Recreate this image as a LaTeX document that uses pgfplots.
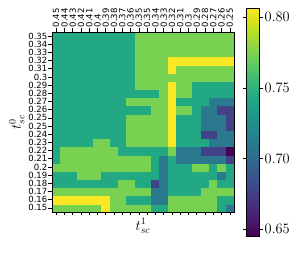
\documentclass[border=0pt]{standalone}
\usepackage[no-math]{fontspec}
\setmainfont{DejaVu Sans}
\usepackage{pgfplots}
\pgfplotsset{compat=1.18}
\begin{document}
\begin{tikzpicture}
\begin{axis}[
  at={(0,0)}, anchor=south west,
  scale only axis, width=182pt, height=180pt,
  xmin=-0.5, xmax=21.5, ymin=-0.5, ymax=21.5,
  enlargelimits=false,
  axis on top,
  colormap/viridis,
  point meta min=0.6452, point meta max=0.8065,
  xtick={0,...,21}, ytick={0,...,21},
  xticklabels={0.45,0.44,0.43,0.42,0.41,0.4,0.39,0.38,0.37,0.36,0.35,0.35,0.34,0.33,0.32,0.31,0.3,0.29,0.28,0.27,0.26,0.25},
  yticklabels={0.15,0.16,0.17,0.18,0.19,0.2,0.21,0.22,0.23,0.24,0.25,0.25,0.26,0.27,0.28,0.29,0.3,0.31,0.32,0.33,0.34,0.35},
  xtick pos=both, xticklabel pos=upper, ytick pos=left,
  tick align=outside, major tick length=3.5pt,
  tick style={black, line width=0.7pt},
  axis line style={line width=0.8pt},
  xticklabel style={rotate=90, anchor=west, font=\fontsize{8.5}{8.5}\selectfont, inner sep=1pt},
  yticklabel style={font=\fontsize{8.5}{8.5}\selectfont, inner sep=1pt},
  xlabel={$t^1_{sc}$}, ylabel={$t^0_{sc}$},
  xlabel style={at={(axis description cs:0.5,-0.035)}, anchor=north, inner sep=0pt, font=\fontsize{14.4}{14.4}\selectfont},
  ylabel style={at={(axis description cs:-0.15,0.5)}, anchor=south, inner sep=0pt, font=\fontsize{14.4}{14.4}\selectfont},
  colorbar,
  colorbar style={
    at={(parent axis.east)}, anchor=west, xshift=4pt,
    scale only axis, width=13pt, height=228pt,
    ytick={0.65,0.7,0.75,0.8},
    yticklabel style={/pgf/number format/fixed, /pgf/number format/fixed zerofill, /pgf/number format/precision=2, font=\fontsize{14.4}{14.4}\selectfont, inner sep=1.5pt},
    tick align=outside, major tick length=3.5pt,
    tick style={black, line width=0.7pt},
    axis line style={line width=0.8pt},
  },
]
\addplot[matrix plot*, mesh/cols=22, point meta=explicit]
  table[row sep=\\, header=false, x expr={mod(\coordindex,22)}, y expr={floor((\coordindex+0.5)/22)}, meta index=0] {
0.774\\0.774\\0.774\\0.774\\0.774\\0.774\\0.806\\0.774\\0.774\\0.774\\0.774\\0.774\\0.742\\0.742\\0.774\\0.774\\0.774\\0.774\\0.774\\0.774\\0.742\\0.710\\
0.806\\0.806\\0.806\\0.806\\0.806\\0.806\\0.806\\0.774\\0.774\\0.742\\0.742\\0.742\\0.710\\0.710\\0.774\\0.774\\0.774\\0.774\\0.774\\0.774\\0.742\\0.742\\
0.774\\0.774\\0.774\\0.774\\0.774\\0.774\\0.774\\0.774\\0.774\\0.774\\0.774\\0.774\\0.710\\0.710\\0.742\\0.742\\0.742\\0.742\\0.774\\0.774\\0.774\\0.774\\
0.742\\0.742\\0.742\\0.742\\0.742\\0.742\\0.742\\0.742\\0.774\\0.774\\0.742\\0.742\\0.677\\0.710\\0.742\\0.742\\0.742\\0.742\\0.742\\0.774\\0.742\\0.742\\
0.742\\0.742\\0.742\\0.774\\0.774\\0.774\\0.742\\0.742\\0.742\\0.742\\0.742\\0.742\\0.742\\0.710\\0.742\\0.742\\0.742\\0.742\\0.742\\0.742\\0.710\\0.742\\
0.774\\0.774\\0.774\\0.774\\0.774\\0.774\\0.774\\0.774\\0.774\\0.774\\0.774\\0.774\\0.742\\0.710\\0.742\\0.742\\0.742\\0.774\\0.774\\0.742\\0.774\\0.742\\
0.742\\0.774\\0.774\\0.774\\0.774\\0.774\\0.774\\0.774\\0.774\\0.774\\0.774\\0.774\\0.742\\0.710\\0.742\\0.710\\0.710\\0.710\\0.710\\0.710\\0.710\\0.677\\
0.742\\0.774\\0.774\\0.774\\0.774\\0.774\\0.774\\0.774\\0.742\\0.742\\0.742\\0.742\\0.742\\0.742\\0.774\\0.710\\0.710\\0.710\\0.677\\0.677\\0.677\\0.645\\
0.742\\0.742\\0.742\\0.742\\0.742\\0.774\\0.774\\0.742\\0.742\\0.774\\0.774\\0.774\\0.774\\0.774\\0.806\\0.742\\0.742\\0.742\\0.742\\0.710\\0.710\\0.710\\
0.742\\0.742\\0.742\\0.742\\0.742\\0.742\\0.742\\0.742\\0.742\\0.774\\0.774\\0.774\\0.774\\0.774\\0.806\\0.742\\0.742\\0.742\\0.677\\0.677\\0.710\\0.710\\
0.742\\0.742\\0.742\\0.742\\0.742\\0.742\\0.742\\0.742\\0.742\\0.774\\0.774\\0.774\\0.774\\0.774\\0.806\\0.742\\0.742\\0.742\\0.710\\0.710\\0.710\\0.677\\
0.742\\0.742\\0.742\\0.742\\0.742\\0.742\\0.742\\0.742\\0.742\\0.774\\0.774\\0.774\\0.774\\0.774\\0.806\\0.742\\0.742\\0.742\\0.710\\0.710\\0.710\\0.677\\
0.742\\0.742\\0.742\\0.742\\0.742\\0.742\\0.742\\0.742\\0.742\\0.742\\0.742\\0.742\\0.774\\0.774\\0.806\\0.774\\0.774\\0.742\\0.710\\0.710\\0.677\\0.677\\
0.742\\0.742\\0.742\\0.742\\0.742\\0.742\\0.742\\0.742\\0.742\\0.774\\0.774\\0.774\\0.774\\0.774\\0.806\\0.742\\0.742\\0.742\\0.742\\0.710\\0.710\\0.710\\
0.742\\0.742\\0.742\\0.742\\0.742\\0.742\\0.742\\0.742\\0.742\\0.742\\0.742\\0.742\\0.742\\0.774\\0.806\\0.774\\0.774\\0.742\\0.742\\0.742\\0.742\\0.742\\
0.742\\0.742\\0.742\\0.742\\0.742\\0.742\\0.742\\0.742\\0.742\\0.742\\0.774\\0.774\\0.774\\0.774\\0.806\\0.774\\0.774\\0.742\\0.742\\0.742\\0.742\\0.742\\
0.742\\0.742\\0.742\\0.742\\0.742\\0.742\\0.742\\0.742\\0.742\\0.742\\0.774\\0.774\\0.774\\0.774\\0.774\\0.774\\0.774\\0.774\\0.774\\0.774\\0.774\\0.774\\
0.742\\0.742\\0.742\\0.742\\0.742\\0.742\\0.742\\0.742\\0.742\\0.742\\0.774\\0.774\\0.774\\0.774\\0.806\\0.774\\0.774\\0.774\\0.774\\0.774\\0.774\\0.774\\
0.742\\0.742\\0.742\\0.742\\0.742\\0.742\\0.742\\0.742\\0.742\\0.742\\0.774\\0.774\\0.774\\0.774\\0.806\\0.806\\0.806\\0.806\\0.806\\0.806\\0.806\\0.806\\
0.742\\0.742\\0.742\\0.742\\0.742\\0.742\\0.742\\0.742\\0.742\\0.742\\0.774\\0.774\\0.774\\0.774\\0.774\\0.774\\0.774\\0.774\\0.774\\0.774\\0.774\\0.774\\
0.742\\0.742\\0.742\\0.742\\0.742\\0.742\\0.742\\0.742\\0.742\\0.742\\0.774\\0.774\\0.774\\0.774\\0.774\\0.774\\0.774\\0.774\\0.774\\0.774\\0.774\\0.774\\
0.742\\0.742\\0.742\\0.742\\0.742\\0.742\\0.742\\0.742\\0.742\\0.742\\0.774\\0.774\\0.774\\0.774\\0.774\\0.774\\0.774\\0.774\\0.774\\0.774\\0.774\\0.774\\
};
\node[anchor=base, font=\fontsize{15}{15}\selectfont, inner sep=0pt] at (rel axis cs:0.5,-0.228) {k = 14};
\end{axis}
\pgfresetboundingbox
\path[use as bounding box] (-52pt,-52pt) rectangle (248pt,212pt);
\end{tikzpicture}
\end{document}
